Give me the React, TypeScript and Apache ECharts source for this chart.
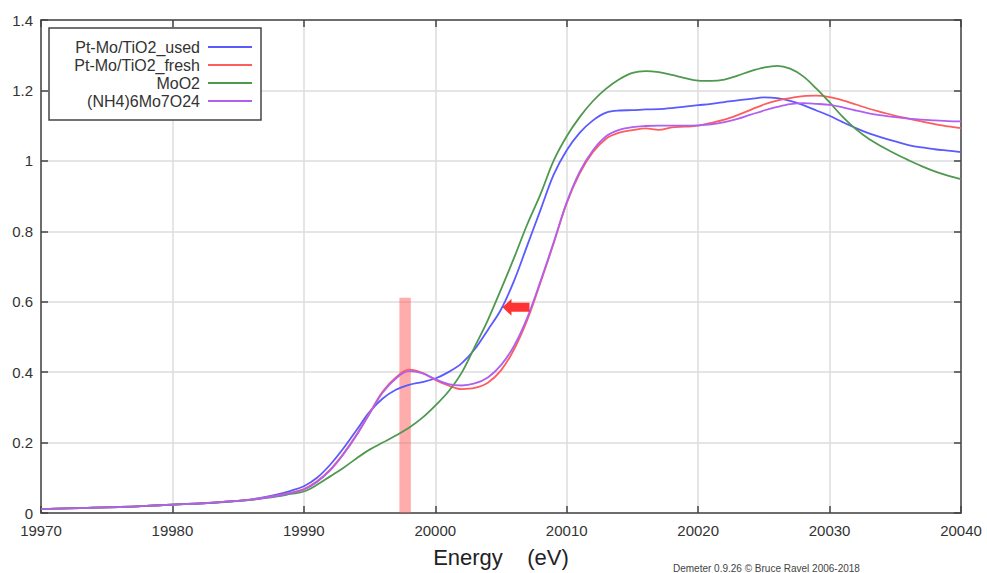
import React, { useEffect, useRef } from "react";
import * as echarts from "echarts";

const energies = [
  19970, 19972, 19974, 19976, 19978, 19980, 19982, 19984, 19986, 19988,
  19989, 19990, 19991, 19992, 19993, 19994, 19995, 19996, 19997, 19998, 19999,
  20000, 20001, 20002, 20003, 20004, 20005, 20006, 20007, 20008, 20009,
  20010, 20011, 20012, 20013, 20014, 20015, 20016, 20017, 20018, 20019,
  20020, 20021, 20022, 20023, 20024, 20025, 20026, 20027, 20028, 20029,
  20030, 20031, 20032, 20033, 20034, 20035, 20036, 20037, 20038, 20039, 20040,
];

const usedVals = [
  0.011, 0.013, 0.015, 0.017, 0.020, 0.024, 0.027, 0.032, 0.039, 0.053,
  0.063, 0.076, 0.100, 0.137, 0.183, 0.235, 0.287, 0.325, 0.350, 0.364, 0.372,
  0.382, 0.400, 0.425, 0.465, 0.520, 0.578, 0.660, 0.760, 0.860, 0.960,
  1.030, 1.080, 1.115, 1.137, 1.143, 1.144, 1.146, 1.147, 1.150, 1.154,
  1.158, 1.162, 1.167, 1.172, 1.176, 1.180, 1.178, 1.170, 1.158, 1.143,
  1.128, 1.110, 1.093, 1.078, 1.066, 1.055, 1.045, 1.038, 1.033, 1.029, 1.025,
];

const freshVals = [
  0.011, 0.013, 0.015, 0.017, 0.020, 0.024, 0.027, 0.032, 0.038, 0.050,
  0.058, 0.068, 0.090, 0.123, 0.168, 0.222, 0.284, 0.345, 0.385, 0.407, 0.398,
  0.378, 0.362, 0.352, 0.355, 0.370, 0.405, 0.465, 0.548, 0.654, 0.765,
  0.880, 0.965, 1.025, 1.063, 1.080, 1.087, 1.092, 1.088, 1.095, 1.097,
  1.100, 1.108, 1.117, 1.130, 1.145, 1.160, 1.171, 1.178, 1.184, 1.185,
  1.181, 1.172, 1.160, 1.148, 1.138, 1.128, 1.120, 1.112, 1.104, 1.098, 1.093,
];

const moo2Vals = [
  0.011, 0.013, 0.015, 0.017, 0.020, 0.024, 0.027, 0.031, 0.037, 0.047,
  0.054, 0.061, 0.080, 0.104, 0.128, 0.155, 0.180, 0.200, 0.220, 0.242, 0.270,
  0.305, 0.345, 0.398, 0.472, 0.548, 0.635, 0.725, 0.820, 0.905, 1.000,
  1.070, 1.125, 1.170, 1.205, 1.232, 1.250, 1.255, 1.252, 1.244, 1.235,
  1.228, 1.227, 1.231, 1.242, 1.255, 1.265, 1.270, 1.262, 1.240, 1.205,
  1.166, 1.125, 1.090, 1.062, 1.040, 1.020, 1.002, 0.985, 0.970, 0.958, 0.948,
];

const hmVals = [
  0.011, 0.013, 0.015, 0.017, 0.020, 0.024, 0.027, 0.032, 0.038, 0.049,
  0.057, 0.066, 0.088, 0.121, 0.166, 0.220, 0.282, 0.342, 0.382, 0.403, 0.397,
  0.380, 0.366, 0.362, 0.368, 0.385, 0.420, 0.475, 0.555, 0.658, 0.768,
  0.882, 0.970, 1.030, 1.070, 1.088, 1.096, 1.099, 1.100, 1.100, 1.100,
  1.101, 1.104, 1.110, 1.119, 1.131, 1.143, 1.153, 1.161, 1.164, 1.162,
  1.159, 1.152, 1.143, 1.135, 1.129, 1.124, 1.120, 1.117, 1.115, 1.113, 1.112,
];

const seriesNames = ["Pt-Mo/TiO2_used", "Pt-Mo/TiO2_fresh", "MoO2", "(NH4)6Mo7O24"];
const seriesColors = ["#5a5aff", "#ff5c5c", "#4f984f", "#b060ee"];
const seriesValues = [usedVals, freshVals, moo2Vals, hmVals];

const xTicks = { min: 19970, max: 20040, interval: 10 };
const yTicks = { min: 0, max: 1.4, interval: 0.2 };

const bandX = [19997.27, 19998.14];
const bandTop = 0.611;
const arrowPoint = [20006.14, 0.584];

const FONT = "Liberation Sans, Arial, Helvetica, sans-serif";

export default function App() {
  const ref = useRef<HTMLDivElement>(null);

  useEffect(() => {
    if (!ref.current) return;
    const chart = echarts.init(ref.current, undefined, { renderer: "svg" });

    const lineSeries = seriesNames.map((name, i) => ({
      name,
      type: "line",
      xAxisIndex: 0,
      yAxisIndex: 0,
      data: energies.map((e, j) => [e, seriesValues[i][j]]),
      showSymbol: false,
      smooth: 0.35,
      lineStyle: { color: seriesColors[i], width: 1.8 },
      itemStyle: { color: seriesColors[i] },
      z: 3,
      markArea:
        i === 0
          ? {
              silent: true,
              itemStyle: { color: "rgba(255,90,90,0.5)" },
              data: [[{ xAxis: bandX[0], yAxis: 0 }, { xAxis: bandX[1], yAxis: bandTop }]],
            }
          : undefined,
    }));

    const legendGraphics: any[] = [
      {
        type: "rect",
        shape: { x: 49, y: 28, width: 212, height: 92 },
        style: { fill: "#fff", stroke: "#444", lineWidth: 1.5 },
        z: 10,
      },
    ];
    seriesNames.forEach((name, i) => {
      const y = 47 + i * 18;
      legendGraphics.push({
        type: "text",
        x: 200,
        y,
        style: {
          text: name,
          fill: "#333",
          fontSize: 16,
          fontFamily: FONT,
          align: "right",
          verticalAlign: "middle",
        },
        z: 11,
      });
      legendGraphics.push({
        type: "line",
        shape: { x1: 208, y1: y, x2: 252, y2: y },
        style: { stroke: seriesColors[i], lineWidth: 2 },
        z: 11,
      });
    });
    legendGraphics.push({
      type: "text",
      x: 673,
      y: 568,
      style: {
        text: "Demeter 0.9.26 \u00a9 Bruce Ravel 2006-2018",
        fill: "#444",
        fontSize: 10,
        fontFamily: FONT,
        align: "left",
        verticalAlign: "middle",
      },
    });

    const axisLineStyle = { color: "#444", width: 1.5 };
    const tickStyle = { show: true, inside: true, length: 7, lineStyle: { color: "#444", width: 1.5 } };

    chart.setOption({
      animation: false,
      backgroundColor: "#fff",
      grid: { left: 41, right: 26, top: 20, bottom: 60, containLabel: false },
      xAxis: [
        {
          type: "value",
          ...xTicks,
          position: "bottom",
          axisLine: { show: true, onZero: false, lineStyle: axisLineStyle },
          axisTick: tickStyle,
          axisLabel: {
            color: "#333",
            fontSize: 15,
            fontFamily: FONT,
            margin: 10,
            formatter: (v: number) => String(v),
          },
          splitLine: { show: true, lineStyle: { color: "#dcdcdc", width: 1.5 } },
          name: "Energy    (eV)",
          nameLocation: "middle",
          nameGap: 33,
          nameTextStyle: { color: "#222", fontSize: 22, fontFamily: FONT },
        },
        {
          type: "value",
          ...xTicks,
          position: "top",
          axisLine: { show: true, onZero: false, lineStyle: axisLineStyle },
          axisTick: tickStyle,
          axisLabel: { show: false },
          splitLine: { show: false },
        },
      ],
      yAxis: [
        {
          type: "value",
          ...yTicks,
          position: "left",
          axisLine: { show: true, onZero: false, lineStyle: axisLineStyle },
          axisTick: tickStyle,
          axisLabel: {
            color: "#333",
            fontSize: 15,
            fontFamily: FONT,
            margin: 8,
            formatter: (v: number) => String(Math.round(v * 10) / 10),
          },
          splitLine: { show: true, lineStyle: { color: "#dcdcdc", width: 1.5 } },
        },
        {
          type: "value",
          ...yTicks,
          position: "right",
          axisLine: { show: true, onZero: false, lineStyle: axisLineStyle },
          axisTick: tickStyle,
          axisLabel: { show: false },
          splitLine: { show: false },
        },
      ],
      series: [
        ...lineSeries,
        {
          name: "arrow",
          type: "scatter",
          xAxisIndex: 0,
          yAxisIndex: 0,
          data: [arrowPoint],
          symbol: "path://M0,8.5 L9,0 L9,4 L27,4 L27,13 L9,13 L9,17 Z",
          symbolSize: [27, 17],
          itemStyle: { color: "#ff0000" },
          silent: true,
          z: 5,
        },
      ],
      graphic: legendGraphics,
    });

    return () => chart.dispose();
  }, []);

  return (
    <div
      ref={ref}
      style={{ position: "fixed", left: 0, top: 0, width: 987, height: 573, background: "#fff" }}
    />
  );
}
